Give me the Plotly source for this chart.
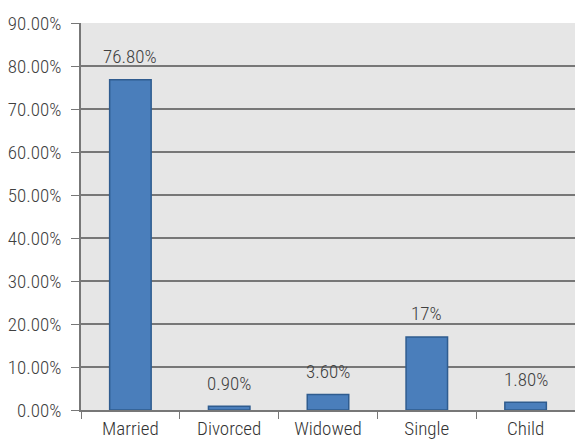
import plotly.graph_objects as go

categories = ["Married", "Divorced", "Widowed", "Single", "Child"]
values = [76.8, 0.9, 3.6, 17.0, 1.8]
labels = ["76.80%", "0.90%", "3.60%", "17%", "1.80%"]
tick_vals = [0, 10, 20, 30, 40, 50, 60, 70, 80, 90]
tick_text = ["0.00%", "10.00%", "20.00%", "30.00%", "40.00%", "50.00%",
             "60.00%", "70.00%", "80.00%", "90.00%"]

FONT = "Roboto Condensed, Liberation Sans Narrow, Roboto, sans-serif"

fig = go.Figure(go.Bar(
    x=categories, y=values,
    marker=dict(color="#4a7ebb", line=dict(color="#2f5c8f", width=1.5)),
    width=0.42,
))

for c, v, t in zip(categories, values, labels):
    fig.add_annotation(x=c, y=v, text=t, showarrow=False, yanchor="middle",
                       yshift=23, font=dict(size=19, family=FONT, color="#404040",
                                            weight=300))

fig.update_layout(
    width=575, height=444,
    margin=dict(l=81, r=0, t=23, b=34),
    paper_bgcolor="white", plot_bgcolor="#e6e6e6",
    font=dict(family=FONT, size=19, color="#404040", weight=300),
    showlegend=False,
    xaxis=dict(showgrid=False, ticks="outside", tickson="boundaries",
               ticklen=7, tickcolor="#777777", showline=True,
               linecolor="#777777", linewidth=1.5,
               tickfont=dict(size=19, family=FONT, color="#333333", weight=300)),
    yaxis=dict(range=[0, 90], tickvals=tick_vals, ticktext=tick_text,
               showgrid=True, gridcolor="#777777", gridwidth=2,
               ticks="outside", ticklen=8, tickcolor="#777777",
               ticklabelstandoff=6,
               showline=True, linecolor="#777777", linewidth=1.5,
               zeroline=False,
               tickfont=dict(size=19, family=FONT, color="#404040", weight=300)),
)

fig.write_html("out.html")
